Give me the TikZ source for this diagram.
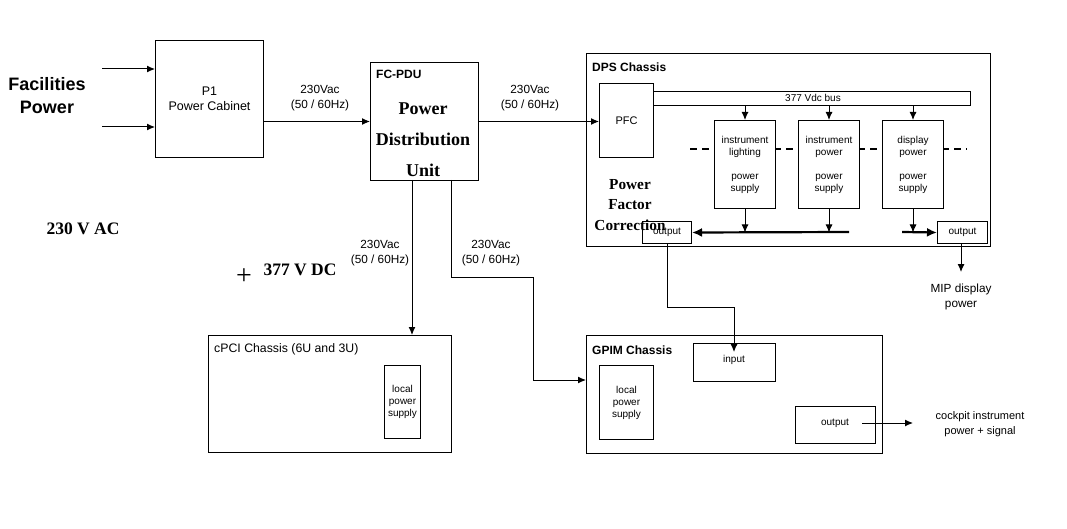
\documentclass[tikz,border=0pt]{standalone}
\usepackage{fontspec}
\setmainfont{Liberation Serif}
\setsansfont{Liberation Sans}
\usetikzlibrary{arrows.meta}
\begin{document}
\begin{tikzpicture}[x=1pt,y=-1pt,
  box/.style={draw, line width=1pt, fill=white, inner sep=0pt, anchor=north west},
  arr/.style={-{Latex[length=8pt,width=7pt]}, line width=1pt},
  thickarr/.style={-{Latex[length=10pt,width=9pt]}, line width=2.2pt},
  lbl/.style={font=\sffamily\fontsize{11.8}{15.5}\selectfont, align=center, inner sep=0pt},
  small/.style={font=\sffamily\fontsize{10}{12}\selectfont, align=center, inner sep=0pt},
  title/.style={font=\sffamily\bfseries\fontsize{12}{14}\selectfont, anchor=west, inner sep=0pt},
  big/.style={font=\bfseries\fontsize{18}{31}\selectfont, align=center, inner sep=0pt},
  dashline/.style={line width=1.6pt, dash pattern=on 7pt off 5pt}]
\useasboundingbox[fill=white] (0,0) rectangle (1067,529);

% left texts
\node[font=\sffamily\bfseries\fontsize{18}{23}\selectfont, align=center, inner sep=0pt] (fac) at (47,96) {Facilities\\Power};
\node[font=\bfseries\fontsize{17.5}{20}\selectfont, inner sep=0pt] (ac) at (83,229) {230 V AC};
\node[font=\fontsize{28}{30}\selectfont, inner sep=0pt] (plus) at (244,277) {+};
\node[font=\bfseries\fontsize{17.5}{20}\selectfont, inner sep=0pt] (dc) at (300,270) {377 V DC};

% P1
\node[box, minimum width=108pt, minimum height=117pt] (p1) at (155,40) {};
\node[lbl, font=\sffamily\fontsize{12.5}{15}\selectfont] (p1t) at (p1.center) {P1\\Power Cabinet};
\coordinate (f1) at (102,69);
\coordinate (f2) at (102,127);
\draw[arr] (f1) -- (f1 -| p1.west);
\draw[arr] (f2) -- (f2 -| p1.west);

% FC-PDU
\node[box, minimum width=108pt, minimum height=118pt] (pdu) at (370,62) {};
\node[title] (pdut) at (376,74) {FC-PDU};
\node[big] (pdub) at (423,140) {Power\\Distribution\\Unit};
\draw[arr] (p1.east |- pdu.west) -- (pdu.west);
\node[lbl] (l1) at (320,98) {230Vac\\(50 / 60Hz)};

% DPS chassis
\node[box, minimum width=404pt, minimum height=193pt] (dps) at (586,53) {};
\node[title] (dpst) at (592,67) {DPS Chassis};
\node[box, minimum width=54pt, minimum height=74pt] (pfc) at (599,83) {};
\node[small, font=\sffamily\fontsize{11}{13}\selectfont] (pfct) at (pfc.center) {PFC};
\draw[arr] (pdu.east) -- (pdu.east -| pfc.west);
\node[lbl] (l2) at (530,98) {230Vac\\(50 / 60Hz)};
\node[box, minimum width=317pt, minimum height=14pt] (bus) at (653,91) {};
\node[small] (bust) at (813,98) {377 Vdc bus};

\coordinate (dl) at (690,149);
\coordinate (dr) at (967,149);
\draw[dashline] (dl) -- (dr);

\node[box, minimum width=61pt, minimum height=88pt] (ils) at (714,120) {};
\node[box, minimum width=61pt, minimum height=88pt] (ips) at (798,120) {};
\node[box, minimum width=61pt, minimum height=88pt] (dsp) at (882,120) {};
\node[small] (ilst) at (ils.center) {instrument\\lighting\\[12pt]power\\supply};
\node[small] (ipst) at (ips.center) {instrument\\power\\[12pt]power\\supply};
\node[small] (dspt) at (dsp.center) {display\\power\\[12pt]power\\supply};

\foreach \n in {ils,ips,dsp} {
  \draw[arr] (bus.south -| \n.north) -- (\n.north);
}

\node[box, minimum width=49pt, minimum height=22pt] (outL) at (642,221) {};
\node[box, minimum width=50pt, minimum height=22pt] (outR) at (937,221) {};
\node[big, font=\bfseries\fontsize{15.3}{20.5}\selectfont] (pfcl) at (630,205) {Power\\Factor\\Correction};
\node[small] (outLt) at (outL.center) {output};
\node[small] (outRt) at (outR.center) {output};

\foreach \n in {ils,ips,dsp} {
  \draw[arr] (\n.south) -- (\n.south |- outL.east);
}
\coordinate (tb1) at (849,232);
\coordinate (tb2) at (902,232);
\draw[thickarr] (tb1) -- (outL.east);
\draw[thickarr] (tb2) -- (outR.west);

\node[lbl] (mip) at (961,297) {MIP display\\power};
\coordinate (mipTip) at (961,272);
\draw[arr] (outR.south -| mipTip) -- (mipTip);

% cPCI
\node[box, minimum width=243pt, minimum height=117pt] (cpci) at (208,335) {};
\node[title, font=\sffamily\fontsize{12.3}{14}\selectfont] (cpcit) at (214,349) {cPCI Chassis (6U and 3U)};
\node[box, minimum width=36pt, minimum height=73pt] (cpsu) at (384,365) {};
\node[small] (cpsut) at (cpsu.center) {local\\power\\supply};

% GPIM
\node[box, minimum width=296pt, minimum height=118pt] (gpim) at (586,335) {};
\node[title] (gpimt) at (592,350) {GPIM Chassis};
\node[box, minimum width=54pt, minimum height=74pt] (gpsu) at (599,365) {};
\node[small] (gpsut) at (gpsu.center) {local\\power\\supply};
\node[box, minimum width=82pt, minimum height=38pt] (gin) at (693,343) {};
\node[small] (gint) at (734,360) {input};
\node[box, minimum width=80pt, minimum height=37pt] (gout) at (795,406) {};
\node[small] (goutt) at (835,423) {output};
\coordinate (goS) at (862,423);
\coordinate (goT) at (913,423);
\draw[arr] (goS) -- (goT);
\node[lbl, font=\sffamily\fontsize{11}{15}\selectfont] (cock) at (980,424) {cockpit instrument\\power + signal};

% PDU down links
\coordinate (d1) at (412,180);
\coordinate (d2) at (451,180);
\draw[arr] (d1) -- (d1 |- cpci.north);
\node[lbl] (l3) at (380,253) {230Vac\\(50 / 60Hz)};
\draw[arr] (d2) -- (451,277) -- (533,277) -- (533,380) -- (gpim.west |- 0,380);
\node[lbl] (l4) at (491,253) {230Vac\\(50 / 60Hz)};

% DPS output to GPIM input
\coordinate (ginTip) at (734,352);
\draw[arr] (outL.south) -- (667,307) -- (734,307) -- (ginTip);
\end{tikzpicture}
\end{document}
